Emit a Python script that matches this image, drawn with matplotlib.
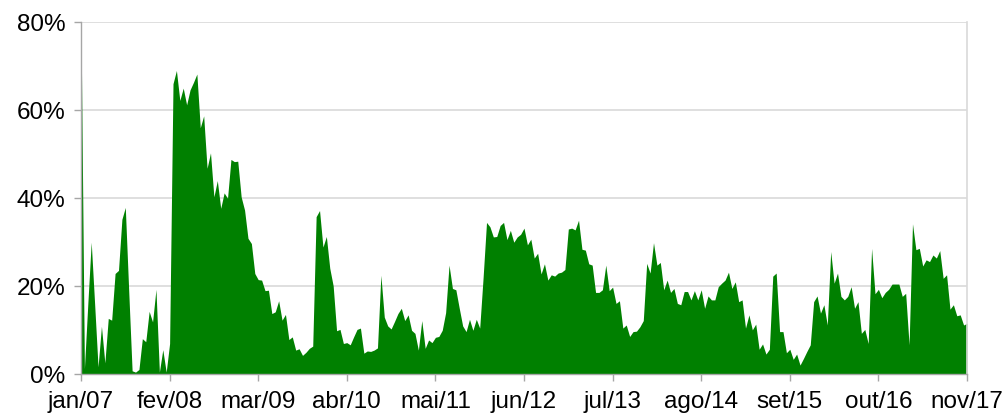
import numpy as np
import matplotlib
matplotlib.use('Agg')
import matplotlib.pyplot as plt
from matplotlib.ticker import FuncFormatter

plt.rcParams['font.family'] = ['Liberation Sans', 'DejaVu Sans']

# valores quinzenais (%), jan/07 a nov/17
valores = [
    80.0, 1.3, 16.0, 30.0, 16.0, 1.7, 10.9, 2.6, 12.7, 12.3,
    22.9, 23.6, 35.2, 37.9, 19.0, 0.8, 0.5, 1.1, 8.1, 7.4,
    14.3, 11.9, 19.3, 0.5, 5.6, 0.5, 7.0, 66.0, 69.0, 62.2,
    65.0, 61.2, 64.6, 66.3, 68.2, 56.0, 58.7, 46.8, 50.3, 40.3,
    44.0, 37.7, 41.2, 40.0, 48.8, 48.3, 48.4, 40.3, 37.3, 30.9,
    29.7, 22.9, 21.5, 21.4, 19.0, 19.1, 13.8, 14.2, 16.7, 12.3,
    13.6, 7.9, 8.5, 5.5, 5.8, 4.3, 5.0, 5.9, 6.4, 35.8,
    37.2, 28.9, 31.3, 24.1, 20.1, 9.9, 10.2, 7.0, 7.2, 6.7,
    8.5, 10.2, 10.5, 4.8, 5.3, 5.2, 5.5, 6.0, 22.5, 13.0,
    11.0, 10.3, 12.0, 13.8, 15.0, 12.2, 13.5, 10.0, 9.3, 5.5,
    12.2, 5.9, 7.8, 7.2, 8.4, 8.6, 10.0, 14.0, 24.8, 19.5,
    19.2, 15.0, 11.0, 9.7, 12.5, 10.0, 12.5, 10.5, 22.0, 34.5,
    33.5, 31.2, 31.3, 33.8, 34.5, 30.6, 32.7, 30.0, 31.2, 31.8,
    33.2, 29.4, 30.7, 26.4, 27.5, 22.8, 25.1, 21.4, 22.6, 22.3,
    23.0, 23.2, 23.8, 33.0, 33.2, 32.8, 35.0, 28.4, 28.2, 25.1,
    24.8, 18.6, 18.6, 19.2, 24.8, 19.0, 19.8, 16.1, 16.7, 10.5,
    11.2, 8.6, 9.7, 9.8, 10.8, 12.2, 25.2, 23.0, 29.9, 24.8,
    25.4, 19.2, 21.4, 18.6, 19.5, 16.1, 15.8, 18.8, 18.8, 16.9,
    19.0, 16.9, 19.2, 15.0, 17.8, 16.9, 16.9, 19.9, 20.7, 21.4,
    23.2, 19.5, 21.0, 16.5, 16.9, 10.5, 13.5, 10.1, 11.4, 5.7,
    6.9, 4.6, 5.7, 22.3, 23.0, 9.7, 9.7, 4.9, 5.7, 3.4,
    4.6, 2.1, 3.6, 5.2, 6.7, 16.5, 17.8, 13.9, 15.8, 11.2,
    27.9, 20.7, 23.0, 17.7, 16.9, 17.7, 19.9, 15.0, 16.5, 9.3,
    10.2, 7.0, 28.6, 18.3, 19.3, 17.4, 18.6, 19.3, 20.5, 20.5,
    20.5, 17.7, 18.4, 6.7, 34.2, 28.3, 28.6, 24.6, 26.0, 25.6,
    27.1, 26.4, 28.1, 21.8, 22.6, 14.8, 15.8, 13.3, 13.5, 11.2,
    11.6,
]

rotulos = ['jan/07', 'fev/08', 'mar/09', 'abr/10', 'mai/11', 'jun/12',
           'jul/13', 'ago/14', 'set/15', 'out/16', 'nov/17']
passo_rotulo = 26  # 13 meses = 26 quinzenas

x = np.arange(len(valores))
y = np.array(valores)

fig = plt.figure(figsize=(10.05, 4.16), dpi=100)
ax = fig.add_axes([0.0806, 0.1002, 0.8816, 0.8468])

ax.fill_between(x, 0, y, color='#008000', linewidth=0)

ax.set_xlim(0, len(valores) - 1)
ax.set_ylim(0, 80)
ax.set_yticks([0, 20, 40, 60, 80])
ax.yaxis.set_major_formatter(FuncFormatter(lambda v, p: f'{v:.0f}%'))
ax.set_xticks(np.arange(0, len(valores), passo_rotulo))
ax.set_xticklabels(rotulos)

ax.grid(axis='y', color='#d9d9d9', linewidth=1.2)
ax.set_axisbelow(True)

for s in ['left', 'bottom']:
    ax.spines[s].set_color('#a6a6a6')
    ax.spines[s].set_linewidth(1.0)
ax.spines['right'].set_color('#d9d9d9')
ax.spines['right'].set_linewidth(1.2)
ax.spines['top'].set_visible(False)

ax.tick_params(axis='both', labelsize=17.5, colors='#a6a6a6', labelcolor='black',
               length=5, width=1)
ax.tick_params(axis='y', pad=6)
ax.tick_params(axis='x', pad=7)

fig.savefig('out.png', dpi=100)
